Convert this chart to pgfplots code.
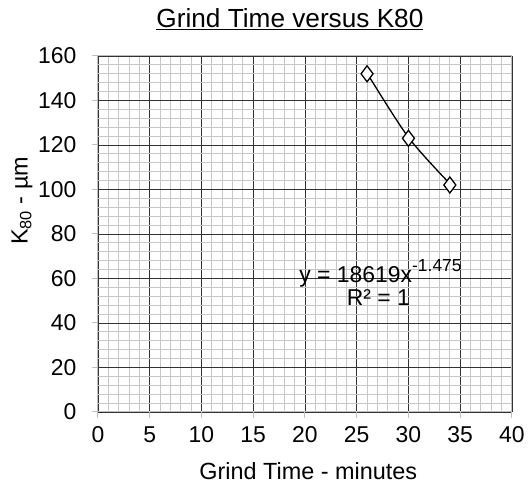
\documentclass[border=0pt]{standalone}
\usepackage{pgfplots}
\pgfplotsset{compat=1.18}
\usepackage{fontspec}
\setmainfont{Liberation Sans}

\begin{document}
\begin{tikzpicture}[x=1bp,y=1bp]
	\begin{axis}[
		scale only axis,
		width=414bp,
		height=356bp,
		xmin=0, xmax=40,
		ymin=0, ymax=160,
		xtick={0,5,...,40},
		ytick={0,20,...,160},
		minor x tick num=4,
		minor y tick num=4,
		grid=both,
		major grid style={black!80, line width=0.8pt},
		minor grid style={black!22, line width=0.9pt},
		axis line style={black!25, line width=1pt},
		tick style={black!25, line width=1pt},
		major tick length=6bp,
		minor tick length=0pt,
		tick align=outside,
		xtick pos=bottom, ytick pos=left,
		tick label style={font=\fontsize{23}{26}\selectfont},
		xticklabel style={yshift=-5bp},
		yticklabel style={xshift=-12bp},
		/pgf/number format/assume math mode=true,
		xlabel={Grind Time - minutes},
		ylabel={K\textsubscript{80} - µm},
		label style={font=\fontsize{23.5}{26}\selectfont},
		xlabel style={at={(axis description cs:0.508,-0.191)}, anchor=base},
		ylabel style={at={(axis description cs:-0.1836,0.593)}, anchor=center},
		clip=false
	]
	% fitted power trend through the points
	\addplot[black, line width=1.3pt, smooth, tension=0.5, forget plot] coordinates {
(26, 152.3)
(30, 123.4)
(34, 102.6)
	};
	\addplot[only marks, mark=diamond*, mark size=8bp,
		mark options={fill=white, draw=black, line width=1.3pt}] coordinates {
(26, 152)
(30, 123)
(34, 102)
	};
	\node[anchor=base, font=\fontsize{23}{26}\selectfont] at (axis cs:27.3,58) {y = 18619x\raisebox{11bp}{\fontsize{17.5}{20}\selectfont -1.475}};
	\node[anchor=base, font=\fontsize{23}{26}\selectfont] at (axis cs:27.1,48) {R² = 1};
	\node[anchor=base, font=\fontsize{26.3}{30}\selectfont] at (axis cs:18.55,172.6) {\underline{Grind Time versus K80}};
	\end{axis}
	\path (-98bp,-79bp) rectangle ++(528bp,491bp);
\end{tikzpicture}
\end{document}
